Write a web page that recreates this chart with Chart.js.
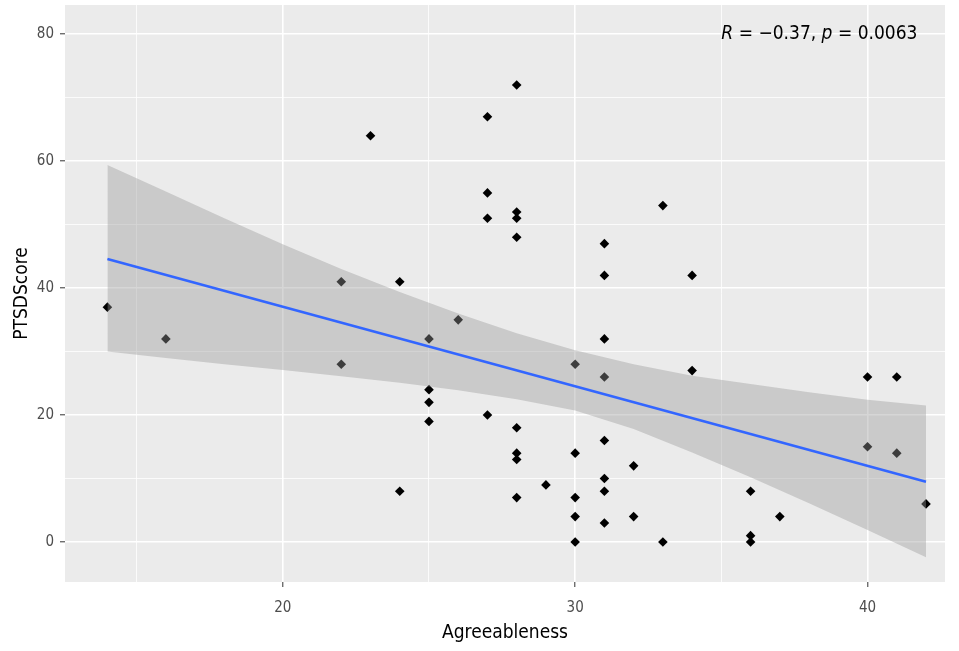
<!DOCTYPE html>
<html lang="en">
<head>
<meta charset="UTF-8">
<title>PTSDScore vs Agreeableness</title>
<script src="https://cdn.jsdelivr.net/npm/chart.js@4"></script>
<style>
  body { margin: 0; background: #fff; }
  canvas { display: block; }
</style>
</head>
<body>
<canvas id="myChart" width="959" height="651"></canvas>
<script>
// data
const agreeableness = [14, 16, 22, 22, 23, 24, 24, 25, 25, 25, 25, 26, 27, 27, 27, 27,
  28, 28, 28, 28, 28, 28, 28, 28, 29, 30, 30, 30, 30, 30, 31, 31, 31, 31, 31, 31, 31, 31,
  32, 32, 33, 33, 34, 34, 36, 36, 36, 37, 40, 40, 41, 41, 42];
const ptsdScore = [37, 32, 41, 28, 64, 41, 8, 32, 24, 22, 19, 35, 67, 55, 51, 20,
  72, 52, 51, 48, 18, 14, 13, 7, 9, 28, 14, 7, 4, 0, 47, 42, 32, 26, 16, 10, 8, 3,
  12, 4, 53, 0, 42, 27, 8, 1, 0, 4, 26, 15, 26, 14, 6];

// fitted line and confidence band
const fitX = [14, 42];
const fitY = [44.6, 9.5];
const bandX = [14, 16, 18, 20, 22, 24, 26, 28, 30, 32, 34, 36, 38, 40, 42];
const bandUpper = [59.4, 55.2, 51.0, 46.9, 43.0, 39.4, 36.0, 32.9, 30.2, 28.0, 26.2, 24.9, 23.6, 22.4, 21.5];
const bandLower = [30.0, 29.0, 28.0, 27.1, 26.1, 25.1, 23.9, 22.5, 20.7, 17.8, 14.1, 10.2, 6.1, 1.9, -2.4];

const xTicks = [15, 20, 25, 30, 35, 40];
const yTicks = [0, 10, 20, 30, 40, 50, 60, 70, 80];

const corLabel = { x: 35, y: 80, r: '-0.37', p: '0.0063' };

const FONT = "'Liberation Sans Narrow', 'DejaVu Sans Condensed', Arial, sans-serif";

const toPts = (xs, ys) => xs.map((x, i) => ({ x: x, y: ys[i] }));

// grey panel background like ggplot
const panelBg = {
  id: 'panelBg',
  beforeDraw(chart) {
    const a = chart.chartArea;
    const ctx = chart.ctx;
    ctx.save();
    ctx.fillStyle = '#EBEBEB';
    ctx.fillRect(a.left, a.top, a.right - a.left, a.bottom - a.top);
    ctx.restore();
  }
};

// R / p annotation
const corText = {
  id: 'corText',
  afterDatasetsDraw(chart) {
    const ctx = chart.ctx;
    let x = chart.scales.x.getPixelForValue(corLabel.x);
    const y = chart.scales.y.getPixelForValue(corLabel.y);
    const parts = [
      ['italic', 'R'], ['normal', ' = \u2212' + corLabel.r.replace('-', '') + ', '],
      ['italic', 'p'], ['normal', ' = ' + corLabel.p]
    ];
    ctx.save();
    ctx.fillStyle = '#000';
    ctx.textBaseline = 'middle';
    ctx.textAlign = 'left';
    parts.forEach(([style, txt]) => {
      ctx.font = style + ' 19px ' + FONT;
      ctx.fillText(txt, x, y);
      x += ctx.measureText(txt).width;
    });
    ctx.restore();
  }
};

const ctx = document.getElementById('myChart').getContext('2d');
const myChart = new Chart(ctx, {
  type: 'scatter',
  data: {
    datasets: [
      {
        label: 'fit',
        data: toPts(fitX, fitY),
        showLine: true,
        borderColor: '#3366FF',
        borderWidth: 2.6,
        pointRadius: 0,
        order: 1
      },
      {
        label: 'upper',
        data: toPts(bandX, bandUpper),
        showLine: true,
        borderWidth: 0,
        borderColor: 'rgba(0,0,0,0)',
        pointRadius: 0,
        fill: '+1',
        backgroundColor: 'rgba(153,153,153,0.4)',
        order: 2
      },
      {
        label: 'lower',
        data: toPts(bandX, bandLower),
        showLine: true,
        borderWidth: 0,
        borderColor: 'rgba(0,0,0,0)',
        pointRadius: 0,
        fill: false,
        order: 2
      },
      {
        label: 'points',
        data: toPts(agreeableness, ptsdScore),
        pointStyle: 'rectRot',
        pointRadius: 4.8,
        pointBackgroundColor: '#000',
        pointBorderWidth: 0,
        order: 3
      }
    ]
  },
  options: {
    responsive: false,
    animation: false,
    layout: { padding: { top: 5, right: 14, left: 0, bottom: 0 } },
    plugins: {
      legend: { display: false },
      tooltip: { enabled: false }
    },
    scales: {
      x: {
        type: 'linear',
        min: 12.55,
        max: 42.65,
        afterBuildTicks: (s) => { s.ticks = xTicks.map(v => ({ value: v })); },
        afterFit: (s) => { s.height = 69; s.paddingLeft = 0; s.paddingRight = 0; },
        border: { display: false },
        grid: {
          color: '#FFFFFF',
          lineWidth: (c) => (c.tick && c.tick.value % 10 === 0 ? 1.6 : 0.8),
          tickColor: (c) => (c.tick && c.tick.value % 10 === 0 ? '#333333' : 'rgba(0,0,0,0)'),
          tickLength: 5,
          tickWidth: 1
        },
        ticks: {
          color: '#4D4D4D',
          font: { family: FONT, size: 15 },
          padding: 12,
          maxRotation: 0,
          callback: (v) => (v % 10 === 0 ? v : '')
        },
        title: {
          display: true,
          text: 'Agreeableness',
          color: '#000',
          font: { family: FONT, size: 19 },
          padding: { top: 0, bottom: 7 }
        }
      },
      y: {
        type: 'linear',
        min: -6.3,
        max: 84.6,
        afterBuildTicks: (s) => { s.ticks = yTicks.map(v => ({ value: v })); },
        afterFit: (s) => { s.width = 65; s.paddingTop = 0; s.paddingBottom = 0; },
        border: { display: false },
        grid: {
          color: '#FFFFFF',
          lineWidth: (c) => (c.tick && c.tick.value % 20 === 0 ? 1.6 : 0.8),
          tickColor: (c) => (c.tick && c.tick.value % 20 === 0 ? '#333333' : 'rgba(0,0,0,0)'),
          tickLength: 5,
          tickWidth: 1
        },
        ticks: {
          color: '#4D4D4D',
          font: { family: FONT, size: 15 },
          padding: 6,
          callback: (v) => (v % 20 === 0 ? v : '')
        },
        title: {
          display: true,
          text: 'PTSDScore',
          color: '#000',
          font: { family: FONT, size: 19 },
          padding: { top: 11, bottom: 0 }
        }
      }
    }
  },
  plugins: [panelBg, corText]
});
</script>
</body>
</html>
